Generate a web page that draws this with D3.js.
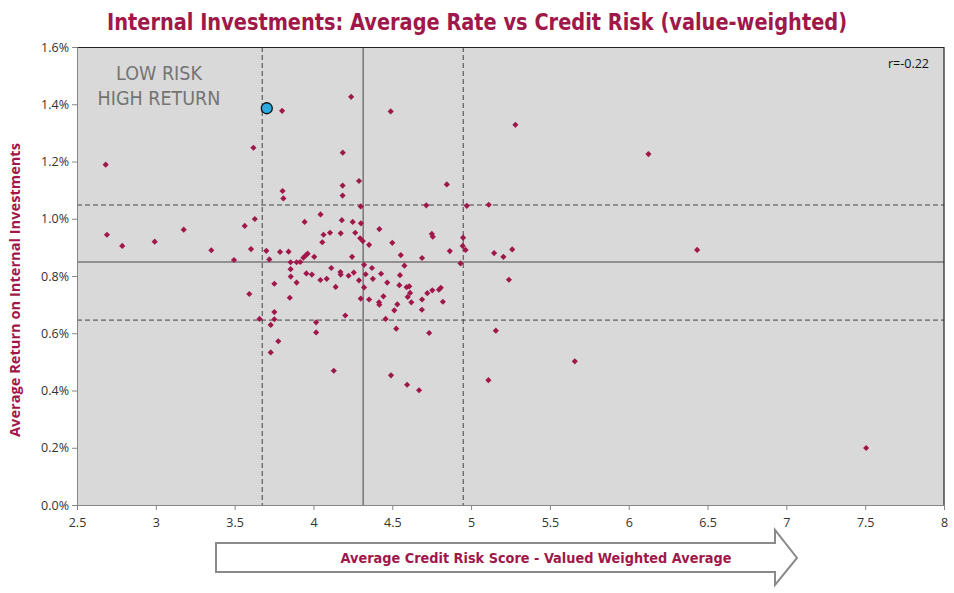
<!DOCTYPE html>
<html>
<head>
<meta charset="utf-8">
<script src="https://cdn.jsdelivr.net/npm/d3@7"></script>
<style>
  body { margin: 0; background: #fff; }
</style>
</head>
<body>
<svg id="chart" width="954" height="593"></svg>
<script>
// credit risk score (x) and average return in % (y), one entry per investment
const riskScores = [
  2.682, 2.690, 2.787, 2.993, 3.177, 3.352, 3.496, 3.564, 3.628, 3.604,
  3.593, 3.658, 3.619, 4.186, 4.185, 4.289, 4.185, 3.804, 3.809, 4.300,
  4.045, 3.944, 4.180, 4.249, 4.301, 4.418, 4.064, 4.105, 4.173, 4.265,
  4.296, 4.313, 4.353, 4.500, 4.056, 3.701, 3.788, 3.842, 3.720, 3.855,
  3.893, 3.916, 3.936, 3.951, 3.963, 4.005, 4.245, 4.554, 3.855, 3.856,
  3.893, 3.955, 3.990, 4.044, 4.084, 4.113, 4.141, 4.171, 4.173, 4.223,
  4.256, 4.289, 4.321, 4.331, 4.321, 4.371, 4.377, 4.429, 4.468, 4.549,
  4.577, 4.545, 4.591, 4.608, 4.613, 4.598, 4.621, 3.752, 3.850, 4.300,
  4.353, 4.416, 4.418, 4.444, 4.532, 4.513, 3.752, 3.752, 3.729, 4.017,
  4.017, 4.202, 4.458, 4.525, 3.777, 3.729, 4.129, 4.492, 4.594, 4.670,
  4.734, 5.157, 5.110, 4.846, 4.716, 4.973, 5.112, 4.751, 4.757, 4.949,
  4.947, 4.965, 4.865, 5.146, 5.205, 5.261, 4.689, 4.933, 5.240, 4.722,
  4.754, 4.796, 4.808, 4.689, 4.821, 4.688, 5.281, 6.125, 6.434, 5.658,
  7.506, 3.801, 4.239, 4.490
];
const avgReturns = [
  1.189, 0.944, 0.905, 0.920, 0.962, 0.890, 0.856, 0.975, 0.999, 0.894,
  0.737, 0.650, 1.248, 1.231, 1.116, 1.132, 1.081, 1.097, 1.071, 1.043,
  1.015, 0.989, 0.995, 0.989, 0.984, 0.964, 0.944, 0.951, 0.949, 0.951,
  0.932, 0.922, 0.909, 0.916, 0.918, 0.888, 0.884, 0.885, 0.858, 0.848,
  0.848, 0.849, 0.864, 0.872, 0.878, 0.867, 0.867, 0.873, 0.824, 0.798,
  0.777, 0.809, 0.805, 0.786, 0.790, 0.828, 0.762, 0.814, 0.805, 0.801,
  0.812, 0.785, 0.839, 0.806, 0.760, 0.828, 0.790, 0.808, 0.777, 0.803,
  0.836, 0.768, 0.761, 0.764, 0.741, 0.727, 0.708, 0.773, 0.724, 0.721,
  0.718, 0.708, 0.700, 0.729, 0.701, 0.680, 0.674, 0.649, 0.629, 0.638,
  0.603, 0.662, 0.650, 0.616, 0.572, 0.533, 0.469, 0.453, 0.420, 0.401,
  0.601, 0.609, 0.436, 1.120, 1.047, 1.045, 1.049, 0.947, 0.937, 0.934,
  0.905, 0.891, 0.887, 0.880, 0.867, 0.893, 0.863, 0.844, 0.787, 0.740,
  0.750, 0.752, 0.759, 0.718, 0.710, 0.682, 1.328, 1.226, 0.891, 0.502,
  0.199, 1.377, 1.426, 1.375
];
const highlightRisk = [3.704];
const highlightReturn = [1.386];

// mean and +/- one std dev guides
const xMeanLine = [4.315];
const xBandLines = [3.675, 4.95];
const yMeanLine = [0.849];
const yBandLines = [0.646, 1.048];

const xTicks = [2.5, 3, 3.5, 4, 4.5, 5, 5.5, 6, 6.5, 7, 7.5, 8];
const yTicks = [0, 0.2, 0.4, 0.6, 0.8, 1.0, 1.2, 1.4, 1.6];
const corrLabel = "r=-0.22";

const crimson = "#A0184A";
const margin = {top: 47, right: 10, bottom: 88, left: 77};
const width = 954, height = 593;
const innerW = width - margin.left - margin.right,
  innerH = height - margin.top - margin.bottom;

const svg = d3.select("#chart");

// title
svg.append("text")
  .attr("x", 477)
  .attr("y", 30)
  .attr("text-anchor", "middle")
  .attr("fill", crimson)
  .attr("font-family", "'DejaVu Sans Condensed', 'DejaVu Sans', sans-serif")
  .attr("font-weight", "bold")
  .attr("font-size", 23)
  .attr("textLength", 740)
  .attr("lengthAdjust", "spacingAndGlyphs")
  .text("Internal Investments: Average Rate vs Credit Risk (value-weighted)");

let x = d3.scaleLinear().domain([2.5, 8]).range([0, innerW]);
let y = d3.scaleLinear().domain([0, 1.6]).range([innerH, 0]);

let g = svg.append("g")
  .attr("transform", `translate(${margin.left},${margin.top})`);

g.append("rect")
  .attr("width", innerW)
  .attr("height", innerH)
  .attr("fill", "#D9D9D9");

// reference lines
g.selectAll(".vline")
  .data(xMeanLine.concat(xBandLines)).enter()
  .append("line")
  .attr("x1", d => x(d)).attr("x2", d => x(d))
  .attr("y1", 0).attr("y2", innerH)
  .attr("stroke", "#444")
  .attr("stroke-width", 1)
  .attr("stroke-dasharray", (d, i) => i == 0 ? null : "5,3");

g.selectAll(".hline")
  .data(yMeanLine.concat(yBandLines)).enter()
  .append("line")
  .attr("x1", 0).attr("x2", innerW)
  .attr("y1", d => y(d)).attr("y2", d => y(d))
  .attr("stroke", (d, i) => i == 0 ? "#777" : "#444")
  .attr("stroke-width", (d, i) => i == 0 ? 1.5 : 1)
  .attr("stroke-dasharray", (d, i) => i == 0 ? null : "5,3");

// frame: dark top/right edges
g.append("path")
  .attr("d", `M0,0.5H${innerW}V${innerH}`)
  .attr("fill", "none")
  .attr("stroke", "#222")
  .attr("stroke-width", 1.2);

// axes
let xAxis = g.append("g")
  .attr("transform", `translate(0,${innerH})`)
  .call(d3.axisBottom(x).tickValues(xTicks).tickFormat(d => d).tickSizeOuter(0).tickSize(5));
let yAxis = g.append("g")
  .call(d3.axisLeft(y).tickValues(yTicks).tickFormat(d => d.toFixed(1) + "%").tickSizeOuter(0).tickSize(5));

[xAxis, yAxis].forEach(a => {
  a.select(".domain").attr("stroke", "#868686");
  a.selectAll(".tick line").attr("stroke", "#868686");
  a.selectAll(".tick text")
    .attr("fill", "#333")
    .attr("font-family", "'Open Sans', sans-serif")
    .attr("font-size", 12.5);
});
xAxis.selectAll(".tick text").attr("dy", "1.1em");
yAxis.selectAll(".tick text").attr("x", -8);

// data points
let pts = riskScores.map((r, i) => ({risk: r, ret: avgReturns[i]}));
g.append("g")
  .selectAll("path")
  .data(pts).enter()
  .append("path")
  .attr("d", d3.symbol().type(d3.symbolSquare).size(19))
  .attr("transform", d => `translate(${x(d.risk)},${y(d.ret)}) rotate(45)`)
  .attr("fill", crimson);

g.append("g")
  .selectAll("circle")
  .data(highlightRisk.map((r, i) => ({risk: r, ret: highlightReturn[i]}))).enter()
  .append("circle")
  .attr("cx", d => x(d.risk))
  .attr("cy", d => y(d.ret))
  .attr("r", 5.5)
  .attr("fill", "#29ABE2")
  .attr("stroke", "#111")
  .attr("stroke-width", 1.3);

// annotations
let quad = g.append("text")
  .attr("text-anchor", "middle")
  .attr("fill", "#747474")
  .attr("font-family", "'DejaVu Sans Condensed', 'DejaVu Sans', sans-serif")
  .attr("font-size", 19.5);
quad.append("tspan").attr("x", 82).attr("y", 33).text("LOW RISK");
quad.append("tspan").attr("x", 82).attr("y", 58).text("HIGH RETURN");

g.append("text")
  .attr("x", innerW - 15)
  .attr("y", 21)
  .attr("text-anchor", "end")
  .attr("fill", "#111")
  .attr("font-family", "'Open Sans', sans-serif")
  .attr("font-size", 12.5)
  .text(corrLabel);

// y axis title
svg.append("text")
  .attr("transform", "translate(20,290) rotate(-90)")
  .attr("text-anchor", "middle")
  .attr("fill", crimson)
  .attr("font-family", "'Open Sans', sans-serif")
  .attr("font-weight", "bold")
  .attr("font-size", 14)
  .attr("textLength", 294)
  .attr("lengthAdjust", "spacingAndGlyphs")
  .text("Average Return on Internal Investments");

// x axis title inside an outline arrow
let arrow = d3.path();
arrow.moveTo(216, 543);
arrow.lineTo(775, 543);
arrow.lineTo(775, 530);
arrow.lineTo(797, 558);
arrow.lineTo(775, 585);
arrow.lineTo(775, 572);
arrow.lineTo(216, 572);
arrow.closePath();
svg.append("path")
  .attr("d", arrow.toString())
  .attr("fill", "#fff")
  .attr("stroke", "#8A8A8A")
  .attr("stroke-width", 2);

svg.append("text")
  .attr("x", 536)
  .attr("y", 563)
  .attr("text-anchor", "middle")
  .attr("fill", crimson)
  .attr("font-family", "'DejaVu Sans Condensed', 'DejaVu Sans', sans-serif")
  .attr("font-weight", "bold")
  .attr("font-size", 14)
  .attr("textLength", 391)
  .attr("lengthAdjust", "spacingAndGlyphs")
  .text("Average Credit Risk Score - Valued Weighted Average");
</script>
</body>
</html>
